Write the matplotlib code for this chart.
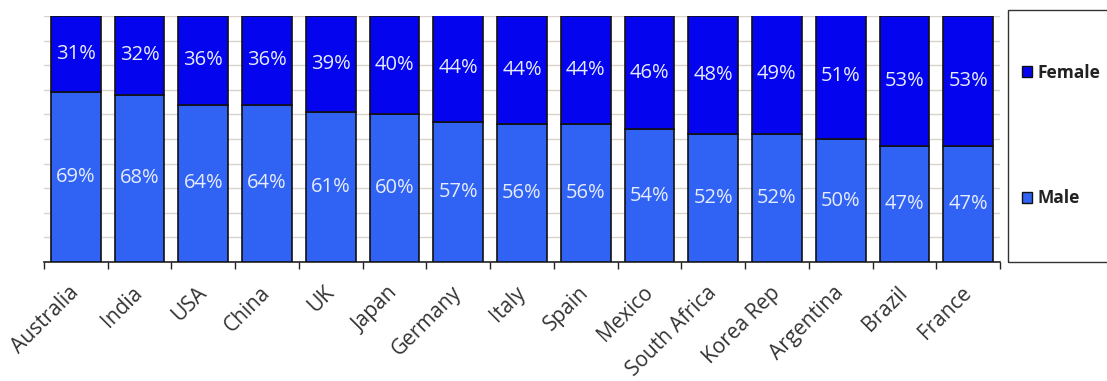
import matplotlib
matplotlib.use("Agg")
import matplotlib.pyplot as plt
from matplotlib.patches import Rectangle, Patch

countries = ["Australia", "India", "USA", "China", "UK", "Japan", "Germany", "Italy",
             "Spain", "Mexico", "South Africa", "Korea Rep", "Argentina", "Brazil", "France"]
male = [69, 68, 64, 64, 61, 60, 57, 56, 56, 54, 52, 52, 50, 47, 47]
female = [31, 32, 36, 36, 39, 40, 44, 44, 44, 46, 48, 49, 51, 53, 53]

male_color = "#3062f4"
female_color = "#0404ee"
label_color = "#e6ecff"

plt.rcParams["font.family"] = ["Open Sans", "DejaVu Sans"]

fig = plt.figure(figsize=(11.07, 3.81), dpi=100)
ax = fig.add_axes([44 / 1107, 119 / 381, 956 / 1107, 246 / 381])

x = list(range(len(countries)))
width = 0.78
ax.bar(x, male, width=width, color=male_color, edgecolor="#111111", linewidth=1.2, zorder=3)
ax.bar(x, female, width=width, bottom=male, color=female_color, edgecolor="#111111",
       linewidth=1.2, zorder=3)

for i in x:
    ax.text(i, male[i] / 2, f"{male[i]}%", ha="center", va="center", color=label_color,
            fontsize=14.5, zorder=4)
    ax.text(i, male[i] + female[i] / 2, f"{female[i]}%", ha="center", va="center",
            color=label_color, fontsize=14.5, zorder=4)

ax.set_xlim(-0.5, len(countries) - 0.5)
ax.set_ylim(0, 100)
ax.set_yticks(range(0, 101, 10))
ax.yaxis.grid(True, color="#d8d4cc", linewidth=1.0, zorder=0)
ax.tick_params(axis="y", left=False, labelleft=False)

# category boundary ticks on the x axis
ax.set_xticks([i - 0.5 for i in range(len(countries) + 1)])
ax.set_xticklabels([])
ax.tick_params(axis="x", direction="out", length=5, width=1, color="#222222")
ax.set_xticks(x, minor=True)
ax.set_xticklabels(countries, minor=True, rotation=45, ha="right", va="center",
                   rotation_mode="anchor", fontsize=15, color="#333333")
ax.tick_params(axis="x", which="minor", length=0, pad=20)

for side in ["left", "right", "top"]:
    ax.spines[side].set_visible(False)
ax.spines["bottom"].set_color("#222222")
ax.spines["bottom"].set_linewidth(1.2)

# legend frame
fig.patches.append(Rectangle((1008 / 1107, 119 / 381), 110 / 1107, 252 / 381,
                             transform=fig.transFigure, fill=False,
                             edgecolor="#333333", linewidth=1.0))
handles = [Patch(facecolor=female_color, edgecolor="#111111"),
           Patch(facecolor=male_color, edgecolor="#111111")]
fig.legend(handles, ["Female", "Male"], loc="upper left",
           bbox_to_anchor=(1013 / 1107, 1 - 55 / 381), frameon=False,
           prop={"size": 12.5, "weight": "bold"}, labelcolor="#222222",
           labelspacing=6.2, handlelength=0.6, handleheight=0.6,
           handletextpad=0.3, borderpad=0)

fig.savefig("out.png", dpi=100)
